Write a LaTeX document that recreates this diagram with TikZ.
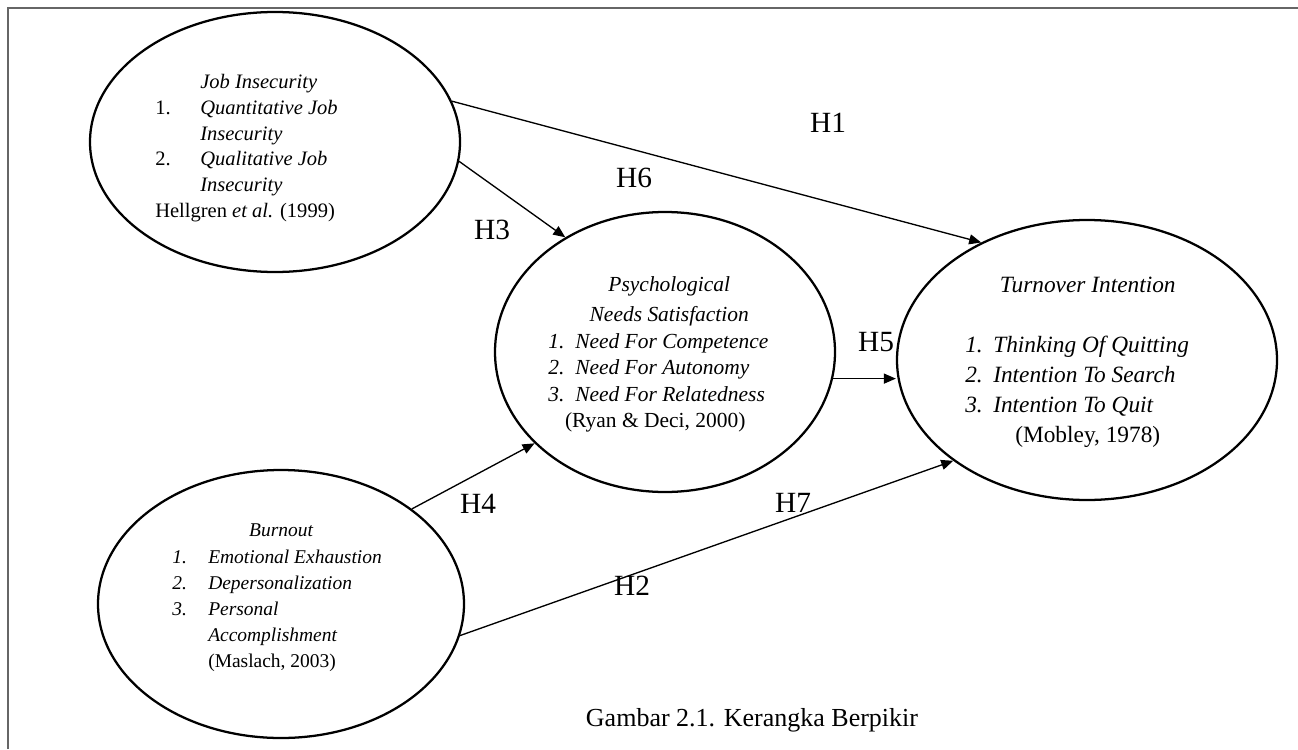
\documentclass[tikz,border=0pt]{standalone}
\usepackage{fontspec}
\setmainfont{Liberation Serif}
\usetikzlibrary{arrows.meta,shapes.geometric}
\begin{document}
\begin{tikzpicture}[x=0.75pt,y=-0.75pt,
  ell/.style={draw, ellipse, line width=1.7pt, inner sep=0pt},
  arr/.style={-{Triangle[length=9pt,width=7.5pt]}, line width=1pt},
  hlab/.style={font=\fontsize{22}{26}\selectfont, inner sep=0pt},
  txt/.style={align=left, inner sep=0pt, anchor=west}]
\useasboundingbox (0,0) rectangle (1298,749);
\fill[white] (0,0) rectangle (1298,749);
\draw[gray!80!black, line width=1pt] (8,749) -- (8,8) -- (1298,8);

% ellipses
\node[ell, minimum width=277.5pt, minimum height=195pt] (ji) at (275,142) {};
\node[ell, minimum width=255pt, minimum height=210pt] (pe) at (665,352) {};
\node[ell, minimum width=285pt, minimum height=210pt] (te) at (1087,360) {};
\node[ell, minimum width=274.5pt, minimum height=201pt] (be) at (281,604) {};

% texts
\node[txt, font=\fontsize{15.4}{19.35}\selectfont] (jit) at (155,148)
 {\hspace*{33.75pt}\textit{Job Insecurity}\\
  \makebox[33.75pt][l]{1.}\textit{Quantitative Job}\\
  \hspace*{33.75pt}\textit{Insecurity}\\
  \makebox[33.75pt][l]{2.}\textit{Qualitative Job}\\
  \hspace*{33.75pt}\textit{Insecurity}\\
  Hellgren \textit{et al.} (1999)};

\node[txt, font=\fontsize{16.1}{19.9}\selectfont] (pet) at (548,354.5)
 {\makebox[160.5pt][c]{\hspace*{21pt}\textit{Psychological}}\\[2.6pt]
  \makebox[160.5pt][c]{\hspace*{21pt}\textit{Needs Satisfaction}}\\
  \makebox[20.25pt][l]{\textit{1.}}\textit{Need For Competence}\\
  \makebox[20.25pt][l]{\textit{2.}}\textit{Need For Autonomy}\\
  \makebox[20.25pt][l]{\textit{3.}}\textit{Need For Relatedness}\\
  \makebox[160.5pt][c]{(Ryan \& Deci, 2000)}};

\node[txt, font=\fontsize{17.5}{22.5}\selectfont] (tet) at (965,362.5)
 {\makebox[171pt][c]{\hspace*{12.75pt}\textit{Turnover Intention}}\\[22.5pt]
  \makebox[21pt][l]{\textit{1.}}\textit{Thinking Of Quitting}\\
  \makebox[21pt][l]{\textit{2.}}\textit{Intention To Search}\\
  \makebox[21pt][l]{\textit{3.}}\textit{Intention To Quit}\\
  \makebox[171pt][c]{\hspace*{12.75pt}(Mobley, 1978)}};

\node[txt, font=\fontsize{14.6}{19.6}\selectfont] (bet) at (172,598)
 {\makebox[168.75pt][c]{\textit{Burnout}\hspace*{5.25pt}}\\
  \makebox[27pt][l]{\textit{1.}}\textit{Emotional Exhaustion}\\
  \makebox[27pt][l]{\textit{2.}}\textit{Depersonalization}\\
  \makebox[27pt][l]{\textit{3.}}\textit{Personal}\\
  \hspace*{27pt}\textit{Accomplishment}\\
  \hspace*{27pt}(Maslach, 2003)};

% arrows
\draw[arr] (ji.13) -- (te.132.5);
\draw[arr] (ji.-6.6) -- (pe.131.2);
\draw[arr] (be.36.7) -- (pe.215);
\draw[arr] (be.-10.8) -- (te.217.3);
\draw[arr] (pe.351.4) -- (pe.351.4 -| te.west);

% labels
\node[hlab] (h1) at (828,123) {H1};
\node[hlab] (h6) at (634,178) {H6};
\node[hlab] (h3) at (492,230) {H3};
\node[hlab] (h5) at (876,342) {H5};
\node[hlab] (h4) at (478,504) {H4};
\node[hlab] (h7) at (793,503) {H7};
\node[hlab] (h2) at (632,586) {H2};

\node[font=\fontsize{19.5}{23}\selectfont, inner sep=0pt] (cap) at (752,720) {Gambar 2.1. Kerangka Berpikir};
\end{tikzpicture}
\end{document}
